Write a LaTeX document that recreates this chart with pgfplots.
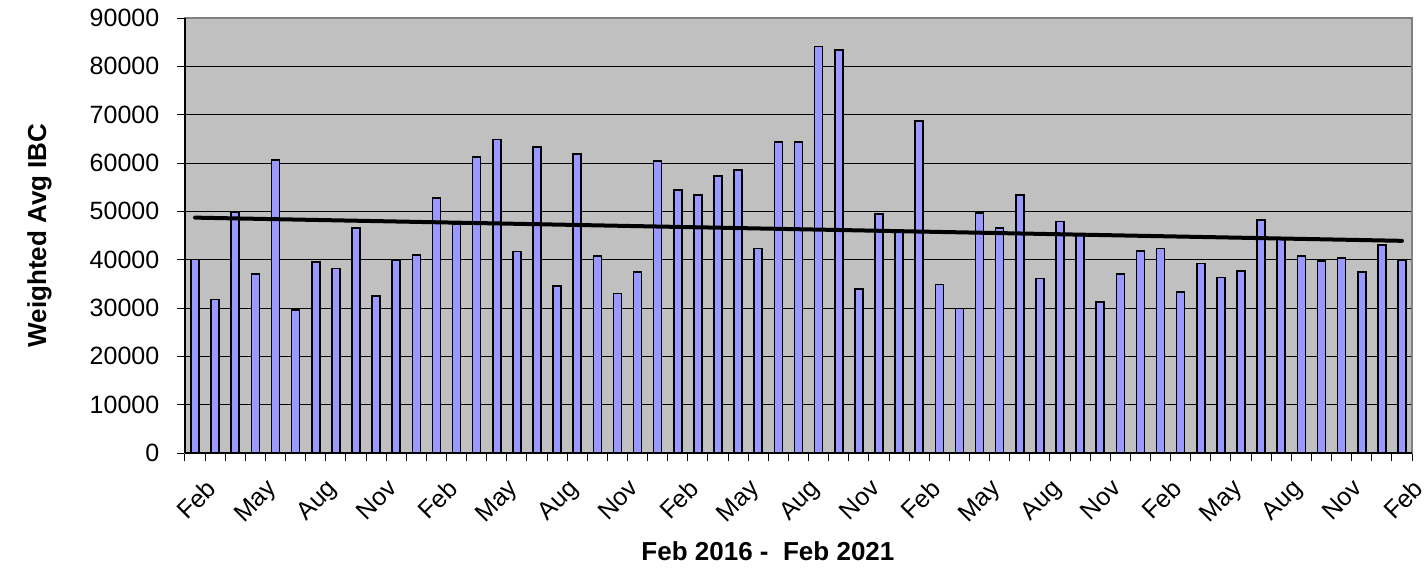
\documentclass[border=0pt]{standalone}
\usepackage{fontspec}
\setmainfont{Liberation Sans}
\usepackage{pgfplots}
\pgfplotsset{compat=1.18}
\usepackage{pgfplotstable}
\definecolor{barfill}{HTML}{9999FF}
\definecolor{plotbg}{HTML}{C0C0C0}
\definecolor{frame}{HTML}{808080}
\pgfplotstableread{
idx val
0 40000
1 31800
2 49800
3 37000
4 60600
5 29600
6 39500
7 38200
8 46500
9 32500
10 39900
11 41000
12 52800
13 47400
14 61200
15 64900
16 41700
17 63300
18 34500
19 61900
20 40800
21 33000
22 37400
23 60400
24 54400
25 53400
26 57300
27 58600
28 42300
29 64400
30 64400
31 84100
32 83400
33 33900
34 49500
35 45800
36 68700
37 34900
38 29900
39 49700
40 46600
41 53400
42 36100
43 47900
44 45100
45 31200
46 37000
47 41800
48 42300
49 33300
50 39200
51 36300
52 37600
53 48200
54 44400
55 40700
56 39700
57 40300
58 37400
59 43000
60 39900
}\datatable
\begin{document}
\fontsize{12.5pt}{15pt}\selectfont
\begin{tikzpicture}[font=\fontsize{12.5pt}{15pt}\selectfont]
\useasboundingbox (-92.5pt,-57.5pt) rectangle (619.5pt,226.5pt);
\begin{axis}[
  at={(0,0)}, anchor=south west,
  scale only axis,
  width=613.5pt, height=217.5pt,
  xmin=-0.5, xmax=60.5,
  ymin=0, ymax=90000,
  ytick={0,10000,...,90000},
  scaled y ticks=false,
  /pgf/number format/1000 sep={},
  /pgf/number format/assume math mode=true,
  xtick={0,3,...,60},
  xticklabels={Feb,May,Aug,Nov,Feb,May,Aug,Nov,Feb,May,Aug,Nov,Feb,May,Aug,Nov,Feb,May,Aug,Nov,Feb},
  minor xtick={-0.5,0.5,...,60.5},
  major x tick style={draw=none},
  minor x tick style={black, line width=0.5pt},
  minor tick length=4pt,
  major tick length=4pt,
  y tick style={black, line width=0.5pt},
  tick align=outside,
  tick pos=left,
  ymajorgrids,
  grid style={black, line width=0.5pt},
  axis line style={draw=frame, line width=0.8pt},
  axis background/.style={fill=plotbg},
  every tick label/.append style={font=\fontsize{12.5pt}{15pt}\selectfont},
  xticklabel style={rotate=45, anchor=north east, yshift=-5pt, xshift=2pt},
  yticklabel style={xshift=-4.5pt},
  xlabel={Feb 2016 -\ \ Feb 2021},
  ylabel={Weighted Avg IBC},
  xlabel style={font=\fontsize{13pt}{15pt}\selectfont\bfseries, at={(axis description cs:0.4751,-0.2023)}, anchor=north, inner sep=0pt},
  ylabel style={font=\fontsize{13pt}{15pt}\selectfont\bfseries, at={(axis description cs:-0.1288,0.5)}, anchor=north, inner sep=0pt},
  clip=false,
]
\addplot[ybar, bar width=4pt, fill=barfill, draw=black, line width=0.8pt] table[x=idx, y=val] {\datatable};
\addplot[black, line width=2pt, line cap=round] coordinates {(0,48700) (60,43900)};
\draw[black, line width=0.8pt] (rel axis cs:0,0) -- (rel axis cs:0,1);
\draw[black, line width=0.8pt] (rel axis cs:0,0) -- (rel axis cs:1,0);
\end{axis}
\end{tikzpicture}
\end{document}
